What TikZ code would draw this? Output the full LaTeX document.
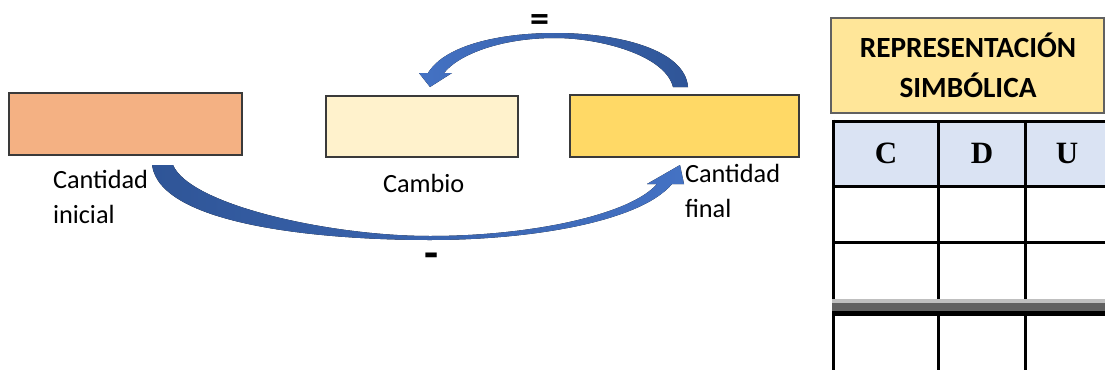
\documentclass[tikz,border=0pt]{standalone}
\usepackage{fontspec}
\setmainfont{Carlito}
\newfontfamily\tnr{Liberation Serif}
\definecolor{orangebox}{HTML}{F4B183}
\definecolor{creambox}{HTML}{FFF2CC}
\definecolor{yellowbox}{HTML}{FFD966}
\definecolor{goldbox}{HTML}{FFE699}
\definecolor{hdrblue}{HTML}{DAE3F3}
\definecolor{arrowdark}{HTML}{2F5597}
\definecolor{arrowlight}{HTML}{4472C4}
\definecolor{boxedge}{HTML}{3A3A3A}
\tikzset{
  colbox/.style={draw=boxedge, line width=1.4pt, inner sep=0pt, outer sep=0pt},
  lbl/.style={inner sep=0pt, outer sep=0pt, anchor=base west, font=\fontsize{26.3}{30}\selectfont},
  sign/.style={inner sep=0pt, outer sep=0pt, anchor=base, font=\fontsize{38}{40}\selectfont\bfseries},
  hdr/.style={inner sep=0pt, outer sep=0pt, anchor=base, font=\fontsize{31}{34}\selectfont\tnr\bfseries},
  tline/.style={line width=3pt, black},
}
\begin{document}
\begin{tikzpicture}[x=1pt,y=-1pt]
\useasboundingbox (0,0) rectangle (1105,370);

% left boxes
\node[colbox, fill=orangebox, minimum width=233pt, minimum height=62pt] (ini) at (125.5,124) {};
\node[colbox, fill=creambox, minimum width=192pt, minimum height=61pt] (cam) at (422,126.5) {};
\node[colbox, fill=yellowbox, minimum width=229pt, minimum height=62pt] (fin) at (684.5,126) {};

% labels
\node[lbl] (lini1) at (53,188) {Cantidad};
\node[lbl] (lini2) at (53,223) {inicial};
\node[lbl] (lcam) at (383,192) {Cambio};
\node[lbl] (lfin1) at (685,182) {Cantidad};
\node[lbl] (lfin2) at (685,217) {final};

% signs
\node[sign] (eq) at (540,31) {=};
\node[sign, font=\fontsize{46}{48}\selectfont\bfseries] (mn) at (432,268.5) {-};

% top curved arrow (points down-left to Cambio)
\fill[left color=arrowlight, right color=arrowdark]
  (688,87) -- (673,87)
  .. controls (665,55) and (600,38) .. (555,38)
  .. controls (500,38) and (458,55) .. (444,73)
  -- (452,73) -- (430,87) -- (419,73) -- (428,73)
  .. controls (445,45) and (500,33) .. (555,33)
  .. controls (620,33) and (685,50) .. (688,87) -- cycle;

% bottom curved arrow (points up-right to Cantidad final)
\fill[left color=arrowdark, right color=arrowlight]
  (152,165) -- (173,165)
  .. controls (190,205) and (330,236) .. (430,236)
  .. controls (530,236) and (630,215) .. (657,184)
  -- (647,184) -- (680,165) -- (684,184) -- (672,184)
  .. controls (640,222) and (530,240) .. (430,240)
  .. controls (320,240) and (160,225) .. (152,165) -- cycle;

% right panel title
\node[draw=boxedge!80, line width=1.2pt, fill=goldbox, inner sep=0pt, outer sep=0pt,
      minimum width=273pt, minimum height=95pt] (title) at (967.5,65.5) {};
\node[inner sep=0pt, anchor=base, font=\fontsize{29.3}{34}\selectfont\bfseries] (t1) at (968,57) {REPRESENTACIÓN};
\node[inner sep=0pt, anchor=base, font=\fontsize{29.3}{34}\selectfont\bfseries] (t2) at (968,97) {SIMBÓLICA};

% table
\fill[hdrblue] (833,121) rectangle (1105,186);
\draw[tline] (833,121) -- (1105,121);
\draw[tline] (833,186) -- (1105,186);
\draw[tline] (833,242) -- (1105,242);
\draw[tline] (833,119.5) -- (833,370);
\draw[tline] (938,121) -- (938,370);
\draw[tline] (1025,121) -- (1025,370);
\fill[black!25] (831.5,299) rectangle (1105,303);
\fill[black!62] (831.5,303) rectangle (1105,311);
\fill[black] (831.5,311) rectangle (1105,316);

\node[hdr] (hc) at (886,163) {C};
\node[hdr] (hd) at (982,163) {D};
\node[hdr] (hu) at (1067,163) {U};
\end{tikzpicture}
\end{document}
